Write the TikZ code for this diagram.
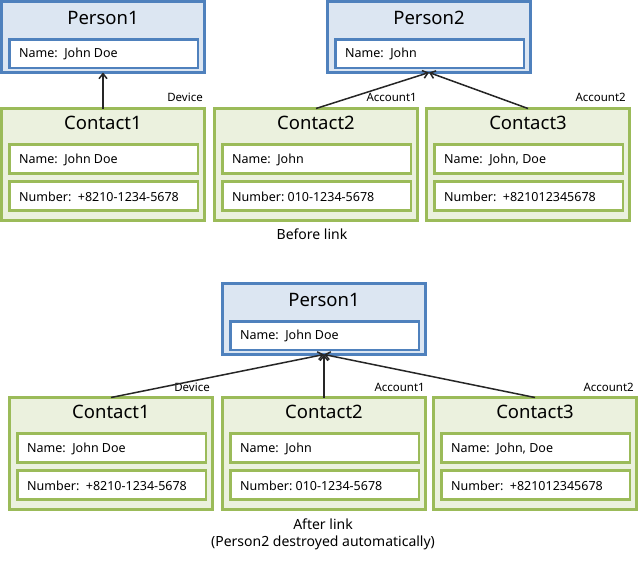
\documentclass[tikz,border=0pt]{standalone}
\usepackage{fontspec}
\setmainfont{Noto Sans}
\usetikzlibrary{arrows.meta}
\definecolor{pfill}{HTML}{DCE6F2}
\definecolor{pline}{HTML}{4F81BD}
\definecolor{cfill}{HTML}{EBF1DE}
\definecolor{cline}{HTML}{9BBB59}
\definecolor{arr}{HTML}{262626}
\tikzset{
  base/.style={rectangle, inner sep=0pt, outer sep=0pt, anchor=north west},
  pbox/.style={base, draw=pline, fill=pfill, line width=3pt, minimum width=203pt, minimum height=71pt},
  cbox/.style={base, draw=cline, fill=cfill, line width=3pt, minimum width=203pt, minimum height=112pt},
  pin/.style={base, draw=pline, fill=white, line width=2.6pt, minimum width=188.5pt, minimum height=28.5pt},
  cin/.style={base, draw=cline, fill=white, line width=2.6pt, minimum width=188.5pt, minimum height=29pt},
  ttl/.style={inner sep=0pt, font=\fontsize{18.5}{20}\selectfont},
  txt/.style={inner sep=0pt, anchor=west, font=\fontsize{12.5}{14}\selectfont},
  lbl/.style={inner sep=0pt, anchor=base east, font=\fontsize{11.5}{13}\selectfont},
  captxt/.style={inner sep=0pt, font=\fontsize{14}{16}\selectfont, align=center},
  link/.style={draw=arr, line width=1.5pt, -{Straight Barb[length=5pt,width=8pt]}},
}
\newcommand{\PersonBox}[5]{% name, L, T, title, nametext
  \node[pbox] (#1) at (#2+1.5,#3+1.5) {};
  \node[ttl] (#1t) at (#2+103,#3+18) {#4};
  \node[pin] (#1n) at (#2+9.3,#3+39.3) {};
  \node[txt] (#1nt) at (#2+19,#3+53.5) {#5};
}
\newcommand{\ContactBox}[6]{% name, L, T, title, nametext, numbertext
  \node[cbox] (#1) at (#2+1.5,#3+1.5) {};
  \node[ttl] (#1t) at (#2+103,#3+16) {#4};
  \node[cin] (#1n) at (#2+9.3,#3+37.3) {};
  \node[txt] (#1nt) at (#2+19,#3+52.5) {#5};
  \node[cin] (#1m) at (#2+9.3,#3+74.3) {};
  \node[txt] (#1mt) at (#2+19,#3+89.5) {#6};
}
\begin{document}
\begin{tikzpicture}[x=1pt,y=-1pt]
\useasboundingbox (0,0) rectangle (644,562);
% ---- before link ----
\PersonBox{pa}{0}{0}{Person1}{Name:\ \ John Doe}
\PersonBox{pb}{326}{0}{Person2}{Name:\ \ John}
\ContactBox{ca}{0}{107}{Contact1}{Name:\ \ John Doe}{Number:\ \ +8210-1234-5678}
\ContactBox{cb}{213}{107}{Contact2}{Name:\ \ John}{Number:\ 010-1234-5678}
\ContactBox{cc}{425}{107}{Contact3}{Name:\ \ John, Doe}{Number:\ \ +821012345678}
\node[lbl] (la) at (203,101.5) {Device};
\node[lbl] (lb) at (417,101.5) {Account1};
\node[lbl] (lc) at (626,101.5) {Account2};
\draw[link] (ca.north) -- (pa.south);
\draw[link] (cb.north) -- (pb.south);
\draw[link] (cc.north) -- (pb.south);
\node[captxt] (before) at (312,234) {Before link};
% ---- after link ----
\PersonBox{qa}{221}{282}{Person1}{Name:\ \ John Doe}
\ContactBox{da}{8}{396}{Contact1}{Name:\ \ John Doe}{Number:\ \ +8210-1234-5678}
\ContactBox{db}{221}{396}{Contact2}{Name:\ \ John}{Number:\ 010-1234-5678}
\ContactBox{dc}{432}{396}{Contact3}{Name:\ \ John, Doe}{Number:\ \ +821012345678}
\node[lbl] (ma) at (210,391) {Device};
\node[lbl] (mb) at (425,391) {Account1};
\node[lbl] (mc) at (634,391) {Account2};
\draw[link] (da.north) -- (qa.south);
\draw[link] (db.north) -- (qa.south);
\draw[link] (dc.north) -- (qa.south);
\node[captxt] (after) at (323,534) {After link\\[1pt](Person2 destroyed automatically)};
\end{tikzpicture}
\end{document}
